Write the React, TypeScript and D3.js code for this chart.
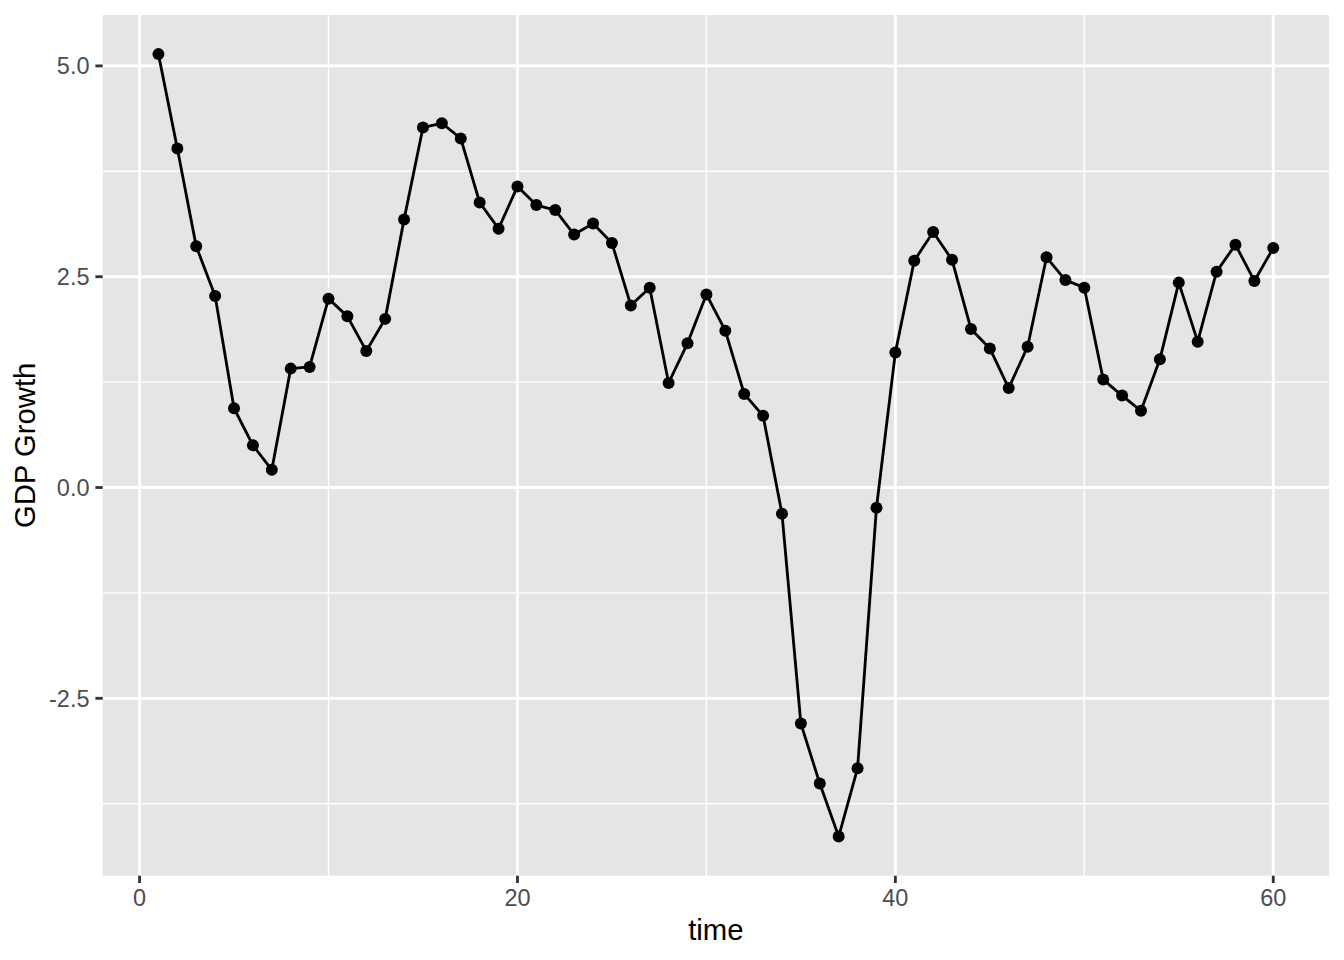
import React from "react";
import * as d3 from "d3";

const timeValues: number[] = Array.from({ length: 60 }, (_, i) => i + 1);
const gdpGrowth: number[] = [
  5.14, 4.02, 2.86, 2.27, 0.94, 0.5, 0.21, 1.41, 1.43, 2.24,
  2.03, 1.62, 2.0, 3.18, 4.27, 4.32, 4.14, 3.38, 3.07, 3.57,
  3.35, 3.29, 3.0, 3.13, 2.9, 2.16, 2.37, 1.24, 1.71, 2.29,
  1.86, 1.11, 0.85, -0.31, -2.8, -3.51, -4.14, -3.33, -0.24, 1.6,
  2.69, 3.03, 2.7, 1.88, 1.65, 1.18, 1.67, 2.73, 2.46, 2.37,
  1.28, 1.09, 0.91, 1.52, 2.43, 1.73, 2.56, 2.88, 2.45, 2.84,
];
const xTicks: number[] = [0, 20, 40, 60];
const xMinor: number[] = [10, 30, 50];
const yTicks: number[] = [-2.5, 0, 2.5, 5];
const yMinor: number[] = [-3.75, -1.25, 1.25, 3.75];
const xLabel = "time";
const yLabel = "GDP Growth";

const W = 1344;
const H = 960;
const panel = { left: 102.7, right: 1329, top: 15, bottom: 875.7 };

function expand(ext: [number, number]): [number, number] {
  const r = ext[1] - ext[0];
  return [ext[0] - r * 0.05, ext[1] + r * 0.05];
}

export default function App() {
  const xExt = d3.extent(timeValues) as [number, number];
  const yExt = d3.extent(gdpGrowth) as [number, number];
  const x = d3.scaleLinear().domain(expand(xExt)).range([panel.left, panel.right]);
  const y = d3.scaleLinear().domain(expand(yExt)).range([panel.bottom, panel.top]);
  const data = timeValues.map((t, i) => ({ t, v: gdpGrowth[i] }));
  const line = d3
    .line<{ t: number; v: number }>()
    .x((d) => x(d.t))
    .y((d) => y(d.v));
  const fmt = (v: number) => d3.format(".1f")(v).replace("\u2212", "-");
  const font = "Liberation Sans, Arial, Helvetica, sans-serif";
  const pw = panel.right - panel.left;
  const ph = panel.bottom - panel.top;

  return (
    <svg
      width={W}
      height={H}
      style={{ position: "absolute", left: 0, top: 0, background: "#fff" }}
      fontFamily={font}
    >
      <rect x={panel.left} y={panel.top} width={pw} height={ph} fill="#E5E5E5" />
      {yMinor.map((v) => (
        <line key={"ym" + v} x1={panel.left} x2={panel.right} y1={y(v)} y2={y(v)} stroke="#fff" strokeWidth={1.42} />
      ))}
      {xMinor.map((v) => (
        <line key={"xm" + v} y1={panel.top} y2={panel.bottom} x1={x(v)} x2={x(v)} stroke="#fff" strokeWidth={1.42} />
      ))}
      {yTicks.map((v) => (
        <line key={"yM" + v} x1={panel.left} x2={panel.right} y1={y(v)} y2={y(v)} stroke="#fff" strokeWidth={2.84} />
      ))}
      {xTicks.map((v) => (
        <line key={"xM" + v} y1={panel.top} y2={panel.bottom} x1={x(v)} x2={x(v)} stroke="#fff" strokeWidth={2.84} />
      ))}
      <path d={line(data) || ""} fill="none" stroke="#000" strokeWidth={2.84} strokeLinejoin="round" />
      {data.map((d) => (
        <circle key={d.t} cx={x(d.t)} cy={y(d.v)} r={6} fill="#000" />
      ))}
      {yTicks.map((v) => (
        <g key={"yt" + v}>
          <line x1={panel.left - 7.3} x2={panel.left} y1={y(v)} y2={y(v)} stroke="#333" strokeWidth={2.84} />
          <text x={panel.left - 7.3 - 5.9} y={y(v)} dy="0.35em" textAnchor="end" fontSize={23.5} fill="#4D4D4D">
            {fmt(v)}
          </text>
        </g>
      ))}
      {xTicks.map((v) => (
        <g key={"xt" + v}>
          <line y1={panel.bottom} y2={panel.bottom + 7.3} x1={x(v)} x2={x(v)} stroke="#333" strokeWidth={2.84} />
          <text x={x(v)} y={905.5} textAnchor="middle" fontSize={23.5} fill="#4D4D4D">
            {v}
          </text>
        </g>
      ))}
      <text x={(panel.left + panel.right) / 2} y={940} textAnchor="middle" fontSize={29.3} fill="#000">
        {xLabel}
      </text>
      <text
        transform={`translate(35,${(panel.top + panel.bottom) / 2}) rotate(-90)`}
        textAnchor="middle"
        fontSize={29.3}
        fill="#000"
      >
        {yLabel}
      </text>
    </svg>
  );
}
